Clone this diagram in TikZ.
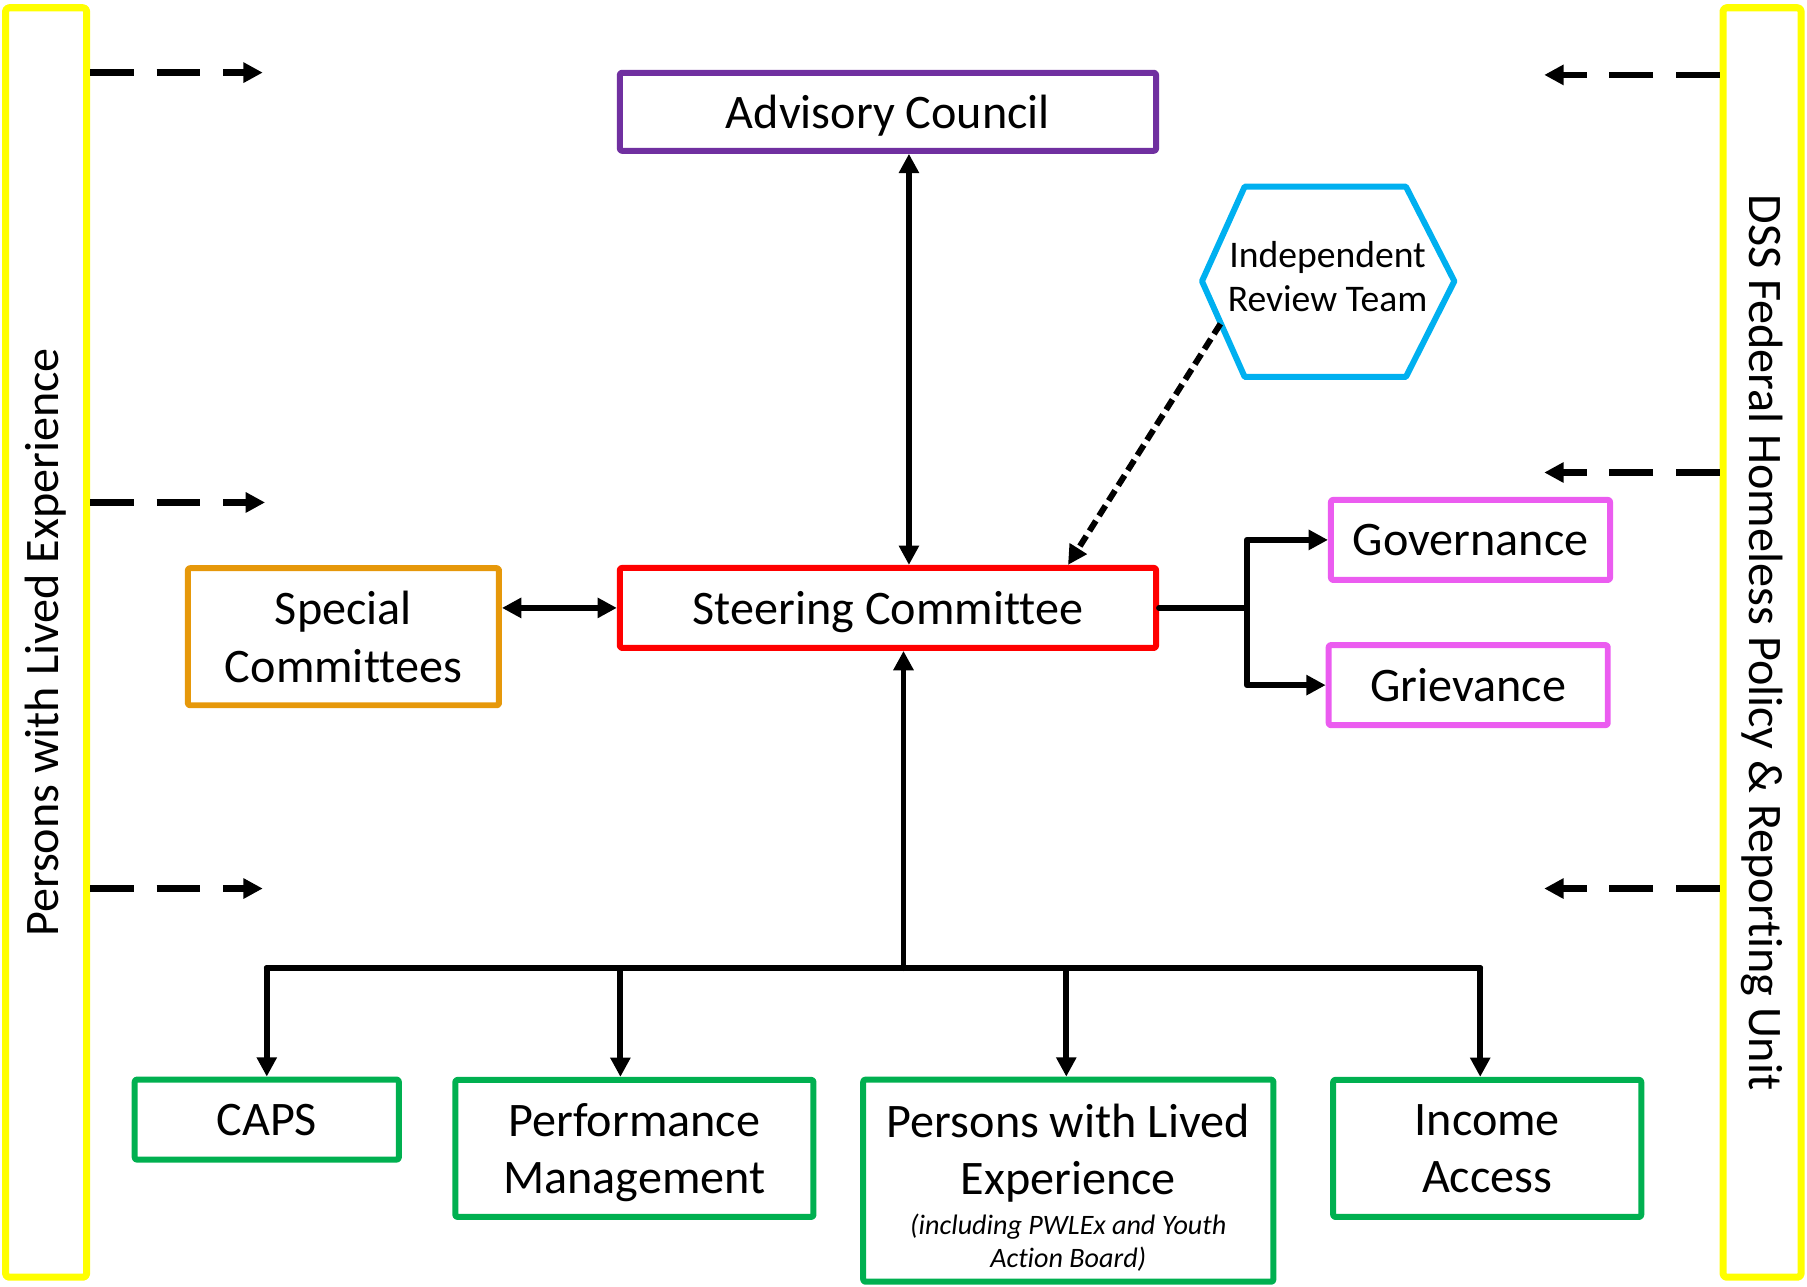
\documentclass[tikz,border=0pt]{standalone}
\usepackage{fontspec}
\setmainfont{Carlito}[Ligatures=NoCommon]
\usetikzlibrary{arrows.meta}
\definecolor{sideyellow}{HTML}{FFFF00}
\definecolor{advpurple}{HTML}{7030A0}
\definecolor{steerred}{HTML}{FF0000}
\definecolor{specorange}{HTML}{E6980A}
\definecolor{irtblue}{HTML}{00B0F0}
\definecolor{subpink}{HTML}{EB5CF0}
\definecolor{workgreen}{HTML}{00B050}
\begin{document}
\begin{tikzpicture}[line cap=round,line join=round,x=0.011524cm,y=-0.011524cm,>={Triangle[length=5.5pt,width=5.5pt]},
    font=\fontsize{13.7}{16.4}\selectfont,
    box/.style={draw,line width=1.7pt,align=center,inner sep=0pt,text depth=0pt,rounded corners=0.6pt},
    sidebar/.style={draw=sideyellow,line width=2pt,inner sep=0pt,minimum width=12.69cm,rounded corners=1pt},
    link/.style={line width=1.7pt},
    feed/.style={line width=1.8pt,line cap=butt,dash pattern=on 12.4pt off 6.5pt,->},
    irtdash/.style={line width=1.7pt,line cap=butt,dash pattern=on 3.4pt off 1.7pt,->}]
    \useasboundingbox (0,0) rectangle (1568,1116);
    \node[sidebar,rotate=90,minimum height=0.81cm] (lived) at (40,557.5) {Persons with Lived Experience};
    \node[sidebar,rotate=-90,minimum height=0.78cm] (dss) at (1529,557.5) {DSS Federal Homeless Policy \& Reporting Unit};
    \node[box,draw=advpurple,minimum width=5.36cm,minimum height=0.78cm] (adv) at (770.5,97) {Advisory Council};
    \node[box,draw=steerred,minimum width=5.36cm,minimum height=0.80cm] (steer) at (770.5,527.5) {Steering Committee};
    \node[box,draw=specorange,minimum width=3.11cm,minimum height=1.37cm] (special) at (298,552.5) {Special\\Committees};
    \node[box,draw=subpink,minimum width=2.79cm,minimum height=0.80cm] (gov) at (1276,468.5) {Governance};
    \node[box,draw=subpink,minimum width=2.79cm,minimum height=0.80cm] (griev) at (1274,594.5) {Grievance};
    \node[box,draw=workgreen,minimum width=2.64cm,minimum height=0.80cm] (caps) at (231.5,971.5) {CAPS};
    \node[box,draw=workgreen,minimum width=3.58cm,minimum height=1.37cm] (perf) at (550.5,996.5) {Performance\\Management};
    \node[box,draw=workgreen,minimum width=4.10cm,minimum height=2.02cm] (pwle) at (927,1024.5)
        {\rule{0pt}{12.4pt}Persons with Lived\\Experience\\[-5pt]{\fontsize{8}{9.6}\selectfont\itshape (including PWLEx and Youth}\\[-7pt]{\fontsize{8}{9.6}\selectfont\itshape Action Board)}};
    \node[box,draw=workgreen,minimum width=3.08cm,minimum height=1.37cm] (income) at (1290.5,996.5) {Income\\Access};
    \draw[irtblue,line width=1.7pt] (1043,244) -- (1080,162) -- (1220,162) -- (1262,244) -- (1220,327) -- (1080,327) -- cycle;
    \node[align=center,font=\fontsize{10.7}{12.7}\selectfont] (irt) at (1152,240) {Independent\\Review Team};
    \coordinate (irtedge) at (1059,281);
    \draw[link,<->] ([xshift=0.21cm]adv.south) -- ([xshift=0.21cm]steer.north);
    \draw[link,<->] (special.east |- steer.west) -- (steer.west);
    \draw[irtdash] (irtedge) -- ([xshift=1.80cm]steer.north);
    \coordinate (branch) at (1082,527.5);
    \draw[link] (steer.east) -- (branch);
    \draw[link,->] (branch) |- (gov.west);
    \draw[link,->] (branch) |- (griev.west);
    \coordinate (bus) at (784,840);
    \coordinate (perftop) at ([xshift=-0.14cm]perf.north);
    \coordinate (pwletop) at ([xshift=-0.02cm]pwle.north);
    \coordinate (incometop) at ([xshift=-0.07cm]income.north);
    \draw[link,->] (bus) -- (bus |- steer.south);
    \draw[link] (caps.north |- bus) -- (incometop |- bus);
    \draw[link,->] (caps.north |- bus) -- (caps.north);
    \draw[link,->] (perftop |- bus) -- (perftop);
    \draw[link,->] (pwletop |- bus) -- (pwletop);
    \draw[link,->] (incometop |- bus) -- (incometop);
    \coordinate (l1) at (228,63);
    \coordinate (l2) at (230,436);
    \coordinate (l3) at (228,771);
    \coordinate (r1) at (1340,65);
    \coordinate (r2) at (1340,410);
    \coordinate (r3) at (1340,771);
    \draw[feed] (lived.south |- l1) -- (l1);
    \draw[feed] (lived.south |- l2) -- (l2);
    \draw[feed] (lived.south |- l3) -- (l3);
    \draw[feed] (dss.south |- r1) -- (r1);
    \draw[feed] (dss.south |- r2) -- (r2);
    \draw[feed] (dss.south |- r3) -- (r3);
\end{tikzpicture}
\end{document}
